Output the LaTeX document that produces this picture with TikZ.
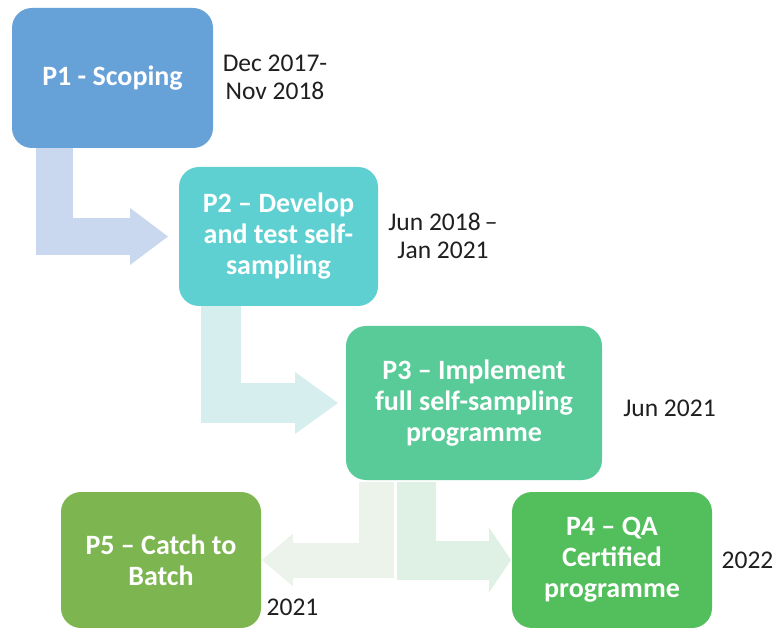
\documentclass[tikz,border=0pt]{standalone}
\usepackage{fontspec}
\setmainfont{Carlito}
\usepackage{xcolor}
\usetikzlibrary{positioning,calc,arrows.meta}

\definecolor{scopeblue}{RGB}{102,161,215}
\definecolor{developcyan}{RGB}{94,208,209}
\definecolor{implementgreen}{RGB}{88,203,152}
\definecolor{certgreen}{RGB}{82,191,92}
\definecolor{batcholive}{RGB}{125,181,80}
\definecolor{arrowblue}{RGB}{201,216,238}
\definecolor{arrowteal}{RGB}{214,238,238}
\definecolor{arrowpale}{RGB}{236,243,234}
\definecolor{arrowmint}{RGB}{223,240,228}

\begin{document}
\begin{tikzpicture}[x=1pt, y=-1pt,
		phase/.style={rectangle, rounded corners=20pt, text=white, align=center, inner sep=0pt, outer sep=0pt, font=\fontsize{28}{31}\selectfont\bfseries},
		when/.style={align=center, text=black!88, font=\fontsize{25.5}{28}\selectfont},
		flow/.style={line width=#1, line join=miter}
		]
		\useasboundingbox (0,0) rectangle (777,628);
		
		\node[phase, fill=scopeblue, minimum width=201pt, minimum height=140pt] (p1) at (112.5,78) {P1 - Scoping};
		\node[phase, fill=developcyan, minimum width=199pt, minimum height=139pt] (p2) at (278.5,236.5) {P2 -- Develop\\and test self-\\sampling};
		\node[phase, fill=implementgreen, minimum width=256pt, minimum height=154pt] (p3) at (474,403) {P3 -- Implement\\full self-sampling\\programme};
		\node[phase, fill=certgreen, minimum width=200pt, minimum height=136pt] (p4) at (612,560) {P4 -- QA\\Certified\\programme};
		\node[phase, fill=batcholive, minimum width=200pt, minimum height=136pt] (p5) at (161,560) {P5 -- Catch to\\Batch};
		
		\node[when] (d1) at (275,77) {Dec 2017-\\Nov 2018};
		\node[when] (d2) at (443,236) {Jun 2018\,--\\Jan 2021};
		\node[when] (d3) at (669.5,408) {Jun 2021};
		\node[when] (d4) at (747.5,560) {2022};
		\node[when] (d5) at (292.5,607) {2021};
		
		\draw[arrowblue, flow=37pt, -{Triangle[length=38pt, width=57pt, line width'=0pt]}, shorten >=11pt] ($(p1.south west)+(42.5,0)$) |- (p2.west);
		\draw[arrowteal, flow=40pt, -{Triangle[length=43pt, width=62pt, line width'=0pt]}, shorten >=8pt] ($(p2.south west)+(42,0)$) |- (p3.west);
		\draw[arrowpale, flow=35pt, -{Triangle[length=31pt, width=53pt, line width'=0pt]}, shorten >=1pt] ($(p3.south west)+(30.5,2)$) |- (p5.east);
		\draw[arrowmint, flow=39pt, -{Triangle[length=22pt, width=65pt, line width'=0pt]}, shorten >=1pt] ($(p3.south west)+(70.5,2)$) |- (p4.west);
	\end{tikzpicture}
\end{document}
